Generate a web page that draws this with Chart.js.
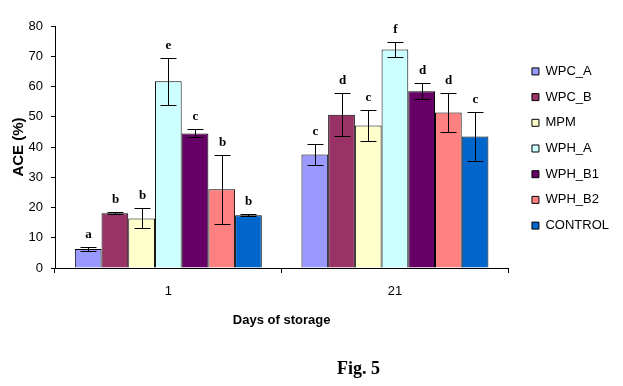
<!DOCTYPE html>
<html>
<head>
<meta charset="utf-8">
<script src="https://cdn.jsdelivr.net/npm/chart.js@4/dist/chart.umd.min.js"></script>
<style>
  html, body { margin: 0; padding: 0; background: #fff; }
  #wrap { position: relative; width: 623px; height: 386px; }
  #c { position: absolute; left: 0; top: 0; }
  #fig { position: absolute; left: 300px; width: 117px; top: 357px; text-align: center;
         font: bold 18px "Liberation Serif", "Times New Roman", serif; color: #000; line-height: 22px; }
</style>
</head>
<body>
<div id="wrap">
  <canvas id="c" width="623" height="386"></canvas>
  <div id="fig">Fig. 5</div>
</div>
<script>
// ---- data ----
const categories = ['1', '21'];
const seriesNames = ['WPC_A', 'WPC_B', 'MPM', 'WPH_A', 'WPH_B1', 'WPH_B2', 'CONTROL'];
const WPC_A   = [6.3, 37.5];
const WPC_B   = [18.1, 50.7];
const MPM     = [16.4, 47.1];
const WPH_A   = [61.7, 72.2];
const WPH_B1  = [44.5, 58.4];
const WPH_B2  = [26.0, 51.4];
const CONTROL = [17.4, 43.5];
const WPC_A_err   = [0.7, 3.6];
const WPC_B_err   = [0.3, 7.1];
const MPM_err     = [3.3, 5.0];
const WPH_A_err   = [7.8, 2.5];
const WPH_B1_err  = [1.3, 2.6];
const WPH_B2_err  = [11.4, 6.3];
const CONTROL_err = [0.3, 8.2];
const WPC_A_sig   = ['a', 'c'];
const WPC_B_sig   = ['b', 'd'];
const MPM_sig     = ['b', 'c'];
const WPH_A_sig   = ['e', 'f'];
const WPH_B1_sig  = ['c', 'd'];
const WPH_B2_sig  = ['b', 'd'];
const CONTROL_sig = ['b', 'c'];
const yTicks = [0, 10, 20, 30, 40, 50, 60, 70, 80];

const values = [WPC_A, WPC_B, MPM, WPH_A, WPH_B1, WPH_B2, CONTROL];
const errors = [WPC_A_err, WPC_B_err, MPM_err, WPH_A_err, WPH_B1_err, WPH_B2_err, CONTROL_err];
const sigs = [WPC_A_sig, WPC_B_sig, MPM_sig, WPH_A_sig, WPH_B1_sig, WPH_B2_sig, CONTROL_sig];
const colors = ['#9999FF', '#993366', '#FFFFCC', '#CCFFFF', '#660066', '#FF8080', '#0066CC'];

const errorBarPlugin = {
  id: 'errorBars',
  afterDatasetsDraw(chart) {
    const ctx = chart.ctx;
    const y = chart.scales.y;
    ctx.save();
    ctx.strokeStyle = '#000';
    ctx.lineWidth = 1;
    chart.data.datasets.forEach((ds, di) => {
      const meta = chart.getDatasetMeta(di);
      meta.data.forEach((bar, i) => {
        const v = ds.data[i], e = errors[di][i];
        const x = Math.round(bar.x) + 0.5;
        const yt = Math.round(y.getPixelForValue(v + e)) + 0.5;
        const yb = Math.round(y.getPixelForValue(v - e)) + 0.5;
        ctx.beginPath();
        ctx.moveTo(x, yt); ctx.lineTo(x, yb);
        ctx.moveTo(x - 8, yt); ctx.lineTo(x + 8, yt);
        ctx.moveTo(x - 8, yb); ctx.lineTo(x + 8, yb);
        ctx.stroke();
        ctx.fillStyle = '#000';
        ctx.font = 'bold 13px "Liberation Serif", "Times New Roman", serif';
        ctx.textAlign = 'center';
        ctx.textBaseline = 'middle';
        ctx.fillText(sigs[di][i], x, yt - 12.5);
      });
    });
    ctx.restore();
  }
};

const legendShift = {
  id: 'legendShift',
  beforeDraw(chart) {
    const lg = chart.legend;
    if (lg && !lg._shifted) { lg.left += 11; lg.right += 11; lg.top += 1.5; lg.bottom += 1.5; lg._shifted = true; }
  }
};

new Chart(document.getElementById('c'), {
  type: 'bar',
  data: {
    labels: categories,
    datasets: seriesNames.map((n, i) => ({
      label: n,
      data: values[i],
      backgroundColor: colors[i],
      borderColor: '#000',
      borderWidth: 1,
      categoryPercentage: 0.825,
      barPercentage: 1.0
    }))
  },
  options: {
    responsive: false,
    animation: false,
    devicePixelRatio: 1,
    layout: { padding: { top: 26, left: 0, right: 15, bottom: 58 } },
    plugins: {
      legend: {
        position: 'right',
        fullSize: false,
        labels: {
          boxWidth: 7, boxHeight: 7, padding: 12.7, color: '#000',
          font: { family: '"Liberation Sans", Arial, sans-serif', size: 13 }
        }
      },
      tooltip: { enabled: false }
    },
    scales: {
      x: {
        afterFit(s) { s.height = 60; },
        grid: { display: true, drawOnChartArea: false, drawTicks: true, tickLength: 5, color: '#000' },
        border: { display: true, color: '#000', width: 1 },
        ticks: { color: '#000', padding: 11, font: { family: '"Liberation Sans", Arial, sans-serif', size: 13 } },
        title: { display: true, text: 'Days of storage', color: '#000', padding: { top: 0, bottom: 0 },
                 font: { family: '"Liberation Sans", Arial, sans-serif', size: 13, weight: 'bold' } }
      },
      y: {
        min: 0, max: 80,
        afterFit(s) { s.width = 55; },
        afterBuildTicks(s) { s.ticks = yTicks.map(v => ({ value: v })); },
        grid: { display: true, drawOnChartArea: false, drawTicks: true, tickLength: 4, color: '#000' },
        border: { display: true, color: '#000', width: 1 },
        ticks: { color: '#000', padding: 8, font: { family: '"Liberation Sans", Arial, sans-serif', size: 13 } },
        title: { display: true, text: 'ACE (%)', color: '#000', padding: { top: 10, bottom: 0 },
                 font: { family: '"Liberation Sans", Arial, sans-serif', size: 15, weight: 'bold' } }
      }
    }
  },
  plugins: [errorBarPlugin, legendShift]
});
</script>
</body>
</html>
